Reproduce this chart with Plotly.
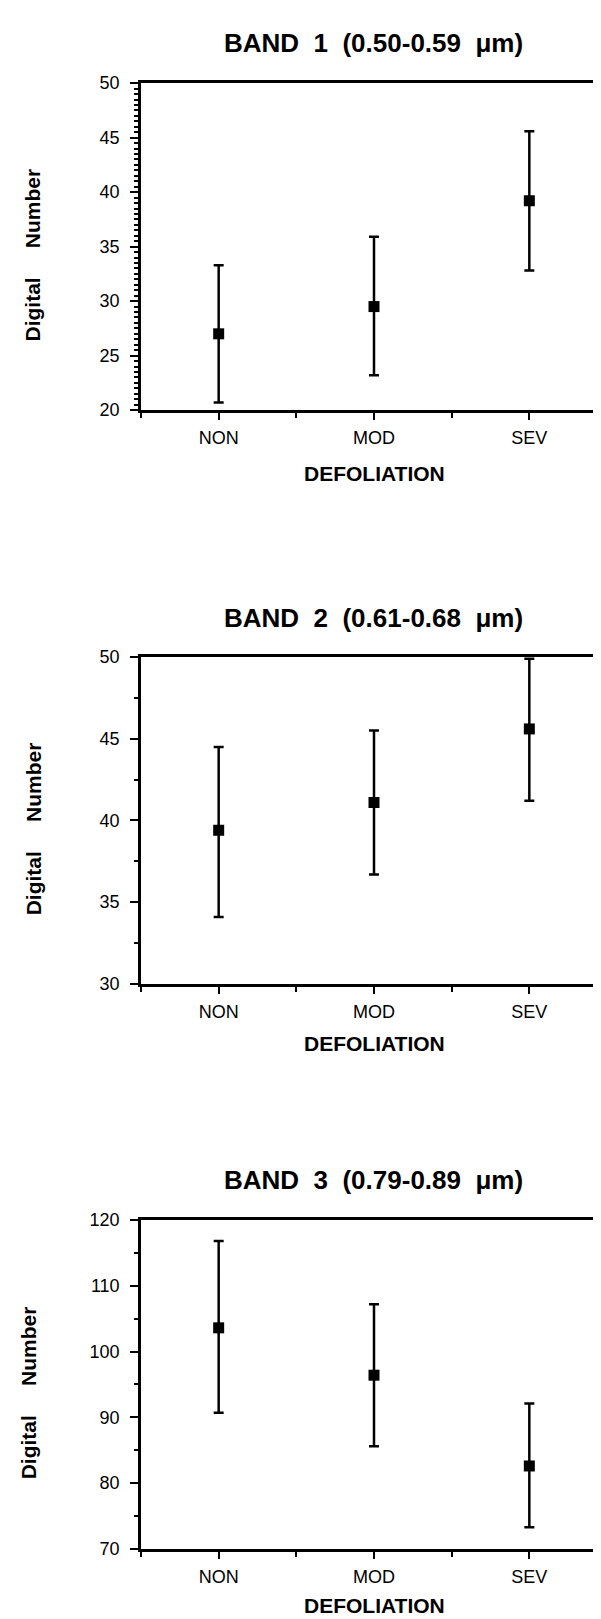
import plotly.graph_objects as go

categories = ["NON", "MOD", "SEV"]
cat_pos = [1, 2, 3]

band_titles = [
    "BAND\u00a0\u00a01\u00a0\u00a0(0.50-0.59\u00a0\u00a0\u03bcm)",
    "BAND\u00a0\u00a02\u00a0\u00a0(0.61-0.68\u00a0\u00a0\u03bcm)",
    "BAND\u00a0\u00a03\u00a0\u00a0(0.79-0.89\u00a0\u00a0\u03bcm)",
]

band1_mean = [27.0, 29.5, 39.2]
band1_high = [33.3, 35.9, 45.6]
band1_low = [20.7, 23.2, 32.8]

band2_mean = [39.4, 41.1, 45.6]
band2_high = [44.5, 45.5, 49.9]
band2_low = [34.1, 36.7, 41.2]

band3_mean = [103.6, 96.4, 82.6]
band3_high = [116.8, 107.2, 92.1]
band3_low = [90.7, 85.6, 73.3]

y_ranges = [[20, 50], [30, 50], [70, 120]]
y_dtick = [5, 5, 10]
y_minor = [0.5, 2.5, 5]

W, H = 601, 1619
x_dom = [133 / W, 599 / W]
plot_px = [(66, 397), (647, 978), (1217, 1550)]
title_px = [25, 607, 1177]
xlabel_px = [461, 1038, 1607]
ylabel_x = [25, 25, 20]

FONT = "Liberation Sans, Arial, Helvetica, sans-serif"

fig = go.Figure()
series = [
    (band1_mean, band1_high, band1_low),
    (band2_mean, band2_high, band2_low),
    (band3_mean, band3_high, band3_low),
]

annotations = []
shapes = []
for i, (m, hi, lo) in enumerate(series):
    k = "" if i == 0 else str(i + 1)
    fig.add_trace(go.Scatter(
        x=cat_pos, y=m, mode="markers",
        marker=dict(symbol="square", size=11, color="black"),
        error_y=dict(type="data", symmetric=False,
                     array=[h - v for h, v in zip(hi, m)],
                     arrayminus=[v - l for v, l in zip(m, lo)],
                     color="black", thickness=2.5, width=5),
        xaxis="x" + k, yaxis="y" + k, showlegend=False,
    ))
    top, bot = plot_px[i]
    ydom = [1 - bot / H, 1 - top / H]
    fig.layout["xaxis" + k] = dict(
        domain=x_dom, range=[0.5, 3.5], anchor="y" + k,
        tickmode="array", tickvals=cat_pos, ticktext=categories,
        ticks="outside", ticklen=7, tickwidth=2, tickcolor="black",
        showline=True, linecolor="black", linewidth=2.5, mirror=True,
        showgrid=False, zeroline=False,
        minor=dict(tickmode="array", tickvals=[0.5, 1.5, 2.5, 3.5],
                   ticks="outside", ticklen=5, tickwidth=2, tickcolor="black"),
        tickfont=dict(family=FONT, size=18, color="black"),
        ticklabelstandoff=3,
    )
    fig.layout["yaxis" + k] = dict(
        domain=ydom, range=y_ranges[i], anchor="x" + k,
        tickmode="linear", tick0=y_ranges[i][0], dtick=y_dtick[i],
        ticks="outside", ticklen=8, tickwidth=2, tickcolor="black",
        showline=True, linecolor="black", linewidth=2.5,
        showgrid=False, zeroline=False,
        minor=dict(dtick=y_minor[i], tick0=y_ranges[i][0], ticks="outside",
                   ticklen=4, tickwidth=1.5, tickcolor="black"),
        tickfont=dict(family=FONT, size=18, color="black"),
        ticklabelstandoff=7,
    )
    annotations.append(dict(
        text="<b>" + band_titles[i] + "</b>", xref="paper", yref="paper",
        x=365 / W, y=1 - title_px[i] / H, xanchor="center", yanchor="middle",
        showarrow=False, font=dict(family=FONT, size=26, color="black"),
    ))
    annotations.append(dict(
        text="<b>DEFOLIATION</b>", xref="paper", yref="paper",
        x=366 / W, y=1 - xlabel_px[i] / H, xanchor="center", yanchor="middle",
        showarrow=False, font=dict(family=FONT, size=21, color="black"),
    ))
    annotations.append(dict(
        text="<b>Digital\u00a0\u00a0\u00a0\u00a0\u00a0Number</b>",
        xref="paper", yref="paper",
        x=ylabel_x[i] / W, y=1 - (top + bot) / 2 / H - 9 / H,
        xanchor="center", yanchor="middle", textangle=-90,
        showarrow=False, font=dict(family=FONT, size=21, color="black"),
    ))

shapes.append(dict(type="line", xref="x domain", yref="y domain",
                   x0=1, x1=1, y0=0, y1=1,
                   line=dict(color="black", width=1.5)))

fig.update_layout(
    width=W, height=H,
    margin=dict(l=0, r=0, t=0, b=0),
    paper_bgcolor="white", plot_bgcolor="white",
    annotations=annotations, shapes=shapes,
    font=dict(family=FONT, color="black"),
)

fig.write_html("out.html")
